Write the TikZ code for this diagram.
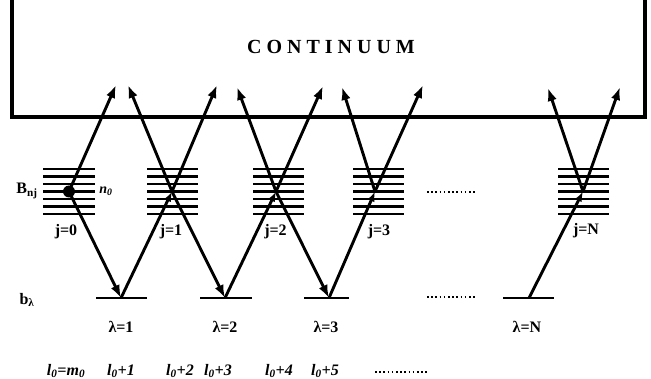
\documentclass[tikz,border=0pt]{standalone}
\usepackage{fontspec}
\setmainfont{Liberation Serif}
\newfontfamily\spacedfont[LetterSpace=25]{Liberation Serif}
\usetikzlibrary{arrows.meta}
\begin{document}
\begin{tikzpicture}[x=1pt,y=-1pt,
  arr/.style={line width=2.9pt,-{Latex[length=13pt,width=9.5pt]}},
  sarr/.style={line width=2.9pt,-{Latex[length=10pt,width=7.5pt]}},
  lvl/.style={line width=2.8pt},
  wall/.style={line width=4.5pt},
  lbl/.style={font=\fontsize{16}{18}\selectfont\bfseries, inner sep=0pt},
  ital/.style={font=\fontsize{16}{18}\selectfont\bfseries\itshape, inner sep=0pt},
  dotline/.style={line width=1.6pt, dash pattern=on 1.6pt off 2.6pt}]
\useasboundingbox (0,0) rectangle (651,379);
% continuum box
\draw[wall] (12,0) -- (12,117) -- (645,117) -- (645,0);
\node[font=\fontsize{20}{22}\selectfont\bfseries\spacedfont, inner sep=0pt] (cont) at (331,47) {CONTINUUM};
% level points
\coordinate (j0) at (69,191.5);
\coordinate (j1) at (172,191.5);
\coordinate (j2) at (276,191.5);
\coordinate (j3) at (375,191.5);
\coordinate (jN) at (583,191.5);
\coordinate (L1) at (121,298);
\coordinate (L2) at (225,298);
\coordinate (L3) at (329,298);
\coordinate (LN) at (529,298);
\coordinate (c0) at (116,85);
\coordinate (c1a) at (128,85);
\coordinate (c1b) at (217,85);
\coordinate (c2a) at (237,87);
\coordinate (c2b) at (323,86);
\coordinate (c3a) at (342,87);
\coordinate (c3b) at (423,85);
\coordinate (cNa) at (548,88);
\coordinate (cNb) at (620,87);
% B stacks
\foreach \xa/\xb in {43/95,147/198,253/304,353/404,558/609}{
  \foreach \k in {0,...,6}{
    \draw[lvl] (\xa,169+7.5*\k) -- (\xb,169+7.5*\k);
  }
}
% b levels
\draw[lvl] (96,298) -- (147,298);
\draw[lvl] (200,298) -- (252,298);
\draw[lvl] (304,298) -- (349,298);
\draw[lvl] (503,298) -- (554,298);
% dotted
\draw[dotline] (427,192) -- (477,192);
\draw[dotline] (427,297) -- (477,297);
\draw[dotline] (375,372) -- (428,372);
% transitions
\draw[arr] (j0) -- (c0);
\draw[arr] (j0) -- (L1);
\draw[sarr] (L1) -- (j1);
\draw[arr] (j1) -- (c1a);
\draw[arr] (j1) -- (c1b);
\draw[arr] (j1) -- (L2);
\draw[sarr] (L2) -- (j2);
\draw[arr] (j2) -- (c2a);
\draw[arr] (j2) -- (c2b);
\draw[arr] (j2) -- (L3);
\draw[sarr] (L3) -- (j3);
\draw[arr] (j3) -- (c3a);
\draw[arr] (j3) -- (c3b);
\draw[sarr] (LN) -- (jN);
\draw[arr] (jN) -- (cNa);
\draw[arr] (jN) -- (cNb);
\fill (j0) circle (6pt);
% labels
\node[lbl] (Bnj) at (27,191) {B\textsubscript{nj}};
\node[ital, font=\fontsize{14}{16}\selectfont\bfseries\itshape] (n0) at (106,191) {n\textsubscript{0}};
\node[lbl] (lj0) at (66,232) {j=0};
\node[lbl] (lj1) at (171,232) {j=1};
\node[lbl] (lj2) at (275.5,232) {j=2};
\node[lbl] (lj3) at (379,232) {j=3};
\node[lbl] (ljN) at (586,231) {j=N};
\node[lbl] (blam) at (27,300) {b\textsubscript{λ}};
\node[lbl] (ll1) at (121,327) {λ=1};
\node[lbl] (ll2) at (225,327) {λ=2};
\node[lbl] (ll3) at (326,327) {λ=3};
\node[lbl] (llN) at (527,327) {λ=N};
\node[ital] (r0) at (66,371) {l\textsubscript{0}=m\textsubscript{0}};
\node[ital] (r1) at (121,371) {l\textsubscript{0}+1};
\node[ital] (r2) at (180,371) {l\textsubscript{0}+2};
\node[ital] (r3) at (218,371) {l\textsubscript{0}+3};
\node[ital] (r4) at (279,371) {l\textsubscript{0}+4};
\node[ital] (r5) at (325,371) {l\textsubscript{0}+5};
\end{tikzpicture}
\end{document}
